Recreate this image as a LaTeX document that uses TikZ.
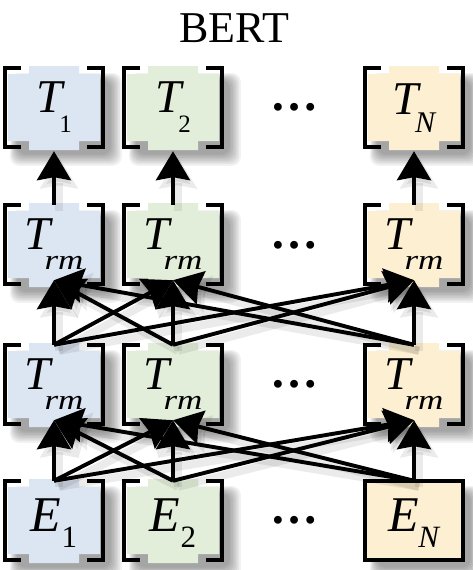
\documentclass[tikz,border=0pt]{standalone}
\usepackage{fontspec}
\setmainfont{Liberation Serif}
\usetikzlibrary{arrows.meta}
\definecolor{cblue}{HTML}{DCE6F2}
\definecolor{cgreen}{HTML}{E2EEDA}
\definecolor{cyellow}{HTML}{FDF0D2}
\tikzset{
  arr/.style={line width=3.9pt, -{Stealth[width=34pt,length=29pt,inset=3pt]}},
  arrshadow/.style={line width=8pt, black, opacity=0.08, -{Stealth[width=37pt,length=31pt,inset=3pt]}},
  brk/.style={line width=3.2pt, line join=miter},
  boxnode/.style={inner sep=0pt, minimum width=98pt, minimum height=79pt},
  labnode/.style={inner sep=0pt},
  dotsnode/.style={inner sep=0pt, anchor=base, font=\fontsize{48}{48}\selectfont\bfseries}
}
% #1 name, #2 cx, #3 top, #4 colour, #5 closed (1) or brackets (0)
\newcommand\mkbox[5]{%
  \pgfmathsetmacro\bxL{#2-49}\pgfmathsetmacro\bxR{#2+49}%
  \pgfmathsetmacro\bxT{#3}\pgfmathsetmacro\bxB{#3+79}%
  \foreach \s in {1,...,8}{%
    \fill[black,opacity=0.05,rounded corners=9pt]
      ({\bxL+13-\s},{\bxT+13-\s}) rectangle ({\bxR+6+\s*1.6},{\bxB+6+\s*1.6});
  }%
  \ifnum#5=1
    \fill[#4] (\bxL,\bxT) rectangle (\bxR,\bxB);
    \draw[brk] (\bxL,\bxT) rectangle (\bxR,\bxB);
  \else
    \fill[#4] ({\bxL+3},{\bxT+6}) -- ({\bxL+24},{\bxT+6}) -- ({\bxL+24},{\bxT-2}) -- ({\bxR-24},{\bxT-2})
      -- ({\bxR-24},{\bxT+6}) -- ({\bxR-3},{\bxT+6}) -- ({\bxR-3},{\bxB-6}) -- ({\bxR-24},{\bxB-6})
      -- ({\bxR-24},{\bxB+3}) -- ({\bxL+24},{\bxB+3}) -- ({\bxL+24},{\bxB-6}) -- ({\bxL+3},{\bxB-6}) -- cycle;
    \draw[brk] ({\bxL+16},\bxT) -- (\bxL,\bxT) -- (\bxL,\bxB) -- ({\bxL+16},\bxB);
    \draw[brk] ({\bxR-16},\bxT) -- (\bxR,\bxT) -- (\bxR,\bxB) -- ({\bxR-16},\bxB);
  \fi
  \node[boxnode] (#1) at (#2,{#3+39.5}) {};
}
% label: #1 main letter, #2 main size, #3 subscript, #4 sub size, #5 kern, #6 drop
\newcommand\lbl[6]{{\fontsize{#2}{#2}\selectfont\itshape #1}\kern#5\raisebox{#6}{\fontsize{#4}{#4}\selectfont #3}}
\newcommand\rmsub{\scalebox{1.25}[1]{\itshape rm}}
\begin{document}
\begin{tikzpicture}[x=1pt,y=-1pt]
\useasboundingbox (0,0) rectangle (472,570);
\fill[white] (0,0) rectangle (472,570);

\node[anchor=base, inner sep=0pt, font=\fontsize{44}{44}\selectfont] (title) at (234,42) {BERT};

% row 1 (outputs)
\mkbox{T1}{54}{68}{cblue}{0}
\mkbox{T2}{173}{68}{cgreen}{0}
\mkbox{TN}{414}{68}{cyellow}{0}
% row 2
\mkbox{A1}{54}{205}{cblue}{0}
\mkbox{A2}{173}{205}{cgreen}{0}
\mkbox{AN}{414}{205}{cyellow}{0}
% row 3
\mkbox{B1}{54}{345}{cblue}{0}
\mkbox{B2}{173}{345}{cgreen}{0}
\mkbox{BN}{414}{345}{cyellow}{0}
% row 4 (embeddings)
\mkbox{E1}{54}{481}{cblue}{0}
\mkbox{E2}{173}{481}{cgreen}{0}
\mkbox{EN}{414}{481}{cyellow}{1}

% labels
\node[labnode] (lT1) at (T1.center) {\lbl{T}{47}{1}{25}{-3pt}{-20pt}};
\node[labnode] (lT2) at (T2.center) {\lbl{T}{47}{2}{25}{-3pt}{-20pt}};
\node[labnode] (lTN) at ([shift={(0,1)}]TN.center) {\lbl{T}{47}{\itshape N}{30}{-4pt}{-18pt}};
\node[labnode] (lA1) at (A1.center) {\lbl{T}{47}{\rmsub}{28}{-6pt}{-20pt}};
\node[labnode] (lA2) at (A2.center) {\lbl{T}{47}{\rmsub}{28}{-6pt}{-20pt}};
\node[labnode] (lAN) at (AN.center) {\lbl{T}{47}{\rmsub}{28}{-6pt}{-20pt}};
\node[labnode] (lB1) at (B1.center) {\lbl{T}{47}{\rmsub}{28}{-6pt}{-20pt}};
\node[labnode] (lB2) at (B2.center) {\lbl{T}{47}{\rmsub}{28}{-6pt}{-20pt}};
\node[labnode] (lBN) at (BN.center) {\lbl{T}{47}{\rmsub}{28}{-6pt}{-20pt}};
\node[labnode] (lE1) at ([shift={(0,2.5)}]E1.center) {\lbl{E}{50}{1}{31}{0pt}{-16pt}};
\node[labnode] (lE2) at ([shift={(0,2.5)}]E2.center) {\lbl{E}{50}{2}{31}{0pt}{-16pt}};
\node[labnode] (lEN) at ([shift={(0,2.5)}]EN.center) {\lbl{E}{50}{\itshape N}{31}{-1pt}{-16pt}};

% ellipses
\node[dotsnode] (d1) at (294,110) {…};
\node[dotsnode] (d2) at (294,248) {…};
\node[dotsnode] (d3) at (294,387) {…};
\node[dotsnode] (d4) at (294,523) {…};

% arrow shadows
\foreach \a/\t in {A1/T1, A2/T2, AN/TN}
  \draw[arrshadow] ([shift={(5,6)}]\a.north) -- ([shift={(5,10)}]\t.south);
\foreach \s in {B1,B2,BN}
  \foreach \t in {A1,A2,AN}
    \draw[arrshadow] ([shift={(5,6)}]\s.north) -- ([shift={(5,2)}]\t.south);
\foreach \s in {E1,E2,EN}
  \foreach \t in {B1,B2,BN}
    \draw[arrshadow] ([shift={(5,6)}]\s.north) -- ([shift={(5,2)}]\t.south);

% arrows row 2 -> row 1
\foreach \a/\t in {A1/T1, A2/T2, AN/TN}
  \draw[arr] (\a.north) -- ([shift={(0,4)}]\t.south);
% arrows row 3 -> row 2
\foreach \s in {B1,B2,BN}
  \foreach \t in {A1,A2,AN}
    \draw[arr] (\s.north) -- ([shift={(0,-4)}]\t.south);
% arrows row 4 -> row 3
\foreach \s in {E1,E2,EN}
  \foreach \t in {B1,B2,BN}
    \draw[arr] (\s.north) -- ([shift={(0,-4)}]\t.south);
\end{tikzpicture}
\end{document}
